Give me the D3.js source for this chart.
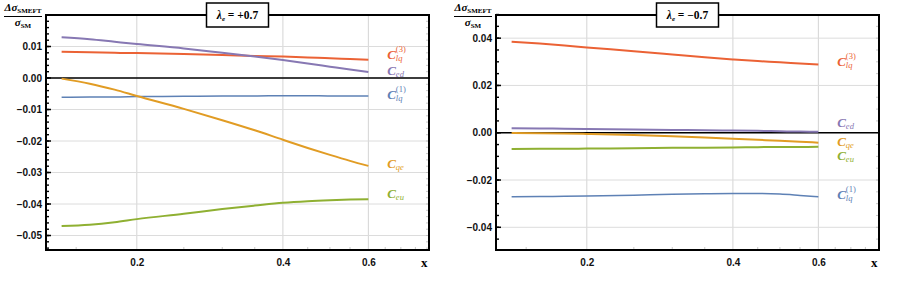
<!DOCTYPE html>
<html>
<head>
<meta charset="utf-8">
<script src="https://cdn.jsdelivr.net/npm/d3@7"></script>
<style>
  body { margin: 0; background: #fff; }
  svg { display: block; }
  .tick-label { font-family: "Liberation Sans", Arial, sans-serif; font-weight: bold; font-size: 10px; fill: #111; }
  .serif { font-family: "Liberation Serif", "DejaVu Serif", serif; }
</style>
</head>
<body>
<div id="chart"></div>
<script>
// ---------------- data ----------------
var xs = [0.14, 0.16, 0.18, 0.2, 0.25, 0.3, 0.35, 0.4, 0.45, 0.5, 0.55, 0.6];

var seriesNames = ["Clq1", "Cqe", "Ceu", "Clq3", "Ced"];

// lambda_e = +0.7
var plusClq1 = [-0.0061, -0.0060, -0.0060, -0.0059, -0.0058, -0.0057, -0.0057, -0.0056, -0.0056, -0.0057, -0.0057, -0.0057];
var plusCqe  = [-0.0002, -0.0018, -0.0037, -0.0057, -0.0098, -0.0134, -0.0166, -0.0196, -0.0222, -0.0244, -0.0263, -0.0279];
var plusCeu  = [-0.0470, -0.0466, -0.0458, -0.0448, -0.0431, -0.0416, -0.0405, -0.0396, -0.0391, -0.0388, -0.0386, -0.0385];
var plusClq3 = [0.0083, 0.0082, 0.0080, 0.0079, 0.0076, 0.0073, 0.0070, 0.0068, 0.0065, 0.0063, 0.0060, 0.0058];
var plusCed  = [0.0129, 0.0123, 0.0115, 0.0108, 0.0094, 0.0080, 0.0068, 0.0057, 0.0046, 0.0036, 0.0027, 0.0019];

// lambda_e = -0.7
var minusClq1 = [-0.0271, -0.0270, -0.0269, -0.0268, -0.0264, -0.0260, -0.0258, -0.0257, -0.0257, -0.0259, -0.0265, -0.0271];
var minusCqe  = [-0.0001, -0.0002, -0.0003, -0.0005, -0.0010, -0.0015, -0.0020, -0.0025, -0.0030, -0.0034, -0.0038, -0.0042];
var minusCeu  = [-0.0069, -0.0068, -0.0068, -0.0067, -0.0066, -0.0064, -0.0063, -0.0062, -0.0061, -0.0060, -0.0060, -0.0059];
var minusClq3 = [0.0385, 0.0377, 0.0369, 0.0361, 0.0345, 0.0331, 0.0319, 0.0310, 0.0303, 0.0298, 0.0293, 0.0289];
var minusCed  = [0.0019, 0.0018, 0.0017, 0.0016, 0.0014, 0.0012, 0.0010, 0.0009, 0.0008, 0.0006, 0.0005, 0.0004];

var xTicks = [0.2, 0.4, 0.6];
var xMinorTicks = [0.15, 0.25, 0.3, 0.35, 0.45, 0.5, 0.55, 0.65, 0.7, 0.75];
var plusYTicks = [0.01, 0.00, -0.01, -0.02, -0.03, -0.04, -0.05];
var minusYTicks = [0.04, 0.02, 0.00, -0.02, -0.04];

// label pieces for each series: main letter, subscript, superscript
var labelSub = { Clq1: "lq", Cqe: "qe", Ceu: "eu", Clq3: "lq", Ced: "ed" };
var labelSup = { Clq1: "(1)", Cqe: "", Ceu: "", Clq3: "(3)", Ced: "" };

// ---------------- drawing ----------------
var colors = { Clq1: "#5e81b5", Cqe: "#e19c24", Ceu: "#8fb032", Clq3: "#eb6235", Ced: "#8778b3" };
var lineWidth = { Clq1: 1.5, Cqe: 2, Ceu: 2, Clq3: 2, Ced: 2 };

var svg = d3.select("#chart").append("svg")
  .attr("width", 900)
  .attr("height", 281);

function drawPanel(p) {
  var g = svg.append("g").attr("transform", `translate(${p.left}, 15)`);
  var w = 383, h = 235;

  var x = d3.scaleLog().domain([0.13, 0.8]).range([0, w]);
  var y = d3.scaleLinear().domain(p.yDomain).range([h, 0]);

  // grid
  g.selectAll(".gx").data(xTicks).enter().append("line")
    .attr("x1", d => x(d)).attr("x2", d => x(d))
    .attr("y1", 0).attr("y2", h)
    .attr("stroke", "#d4d4d4").attr("stroke-width", 1);
  g.selectAll(".gy").data(p.yTicks).enter().append("line")
    .attr("x1", 0).attr("x2", w)
    .attr("y1", d => y(d)).attr("y2", d => y(d))
    .attr("stroke", "#dcdcdc").attr("stroke-width", 1);

  // minor x ticks (bottom)
  g.selectAll(".mx").data(xMinorTicks).enter().append("line")
    .attr("x1", d => x(d)).attr("x2", d => x(d))
    .attr("y1", h).attr("y2", h - 3)
    .attr("stroke", "#bbb").attr("stroke-width", 0.8);

  // y ticks on left (black) and right (grey)
  var minor = d3.range(p.yDomain[0], p.yDomain[1], p.yMinorStep)
    .map(v => Math.round(Math.ceil(v / p.yMinorStep) * p.yMinorStep * 1e6) / 1e6);
  g.selectAll(".my").data(minor).enter().append("line")
    .attr("x1", 0).attr("x2", 3)
    .attr("y1", d => y(d)).attr("y2", d => y(d))
    .attr("stroke", "#000").attr("stroke-width", 1.4);
  g.selectAll(".Myl").data(p.yTicks).enter().append("line")
    .attr("x1", 0).attr("x2", 5)
    .attr("y1", d => y(d)).attr("y2", d => y(d))
    .attr("stroke", "#000").attr("stroke-width", 1.5);
  g.selectAll(".myr").data(minor).enter().append("line")
    .attr("x1", w).attr("x2", w - 3)
    .attr("y1", d => y(d)).attr("y2", d => y(d))
    .attr("stroke", "#bbb").attr("stroke-width", 0.8);

  // zero line
  g.append("line")
    .attr("x1", 0).attr("x2", w)
    .attr("y1", y(0)).attr("y2", y(0))
    .attr("stroke", "#000").attr("stroke-width", 1.6);

  // curves
  var line = d3.line()
    .x((d, i) => x(xs[i]))
    .y(d => y(d))
    .curve(d3.curveMonotoneX);

  seriesNames.forEach(function(name) {
    g.append("path")
      .attr("d", line(p.series[name]))
      .attr("fill", "none")
      .attr("stroke", colors[name])
      .attr("stroke-width", lineWidth[name]);

    // curve labels: C with stacked sub/superscript
    var lx = x(0.6) + 19;
    var ly = p.labelY[name];
    var t = g.append("g").attr("class", "serif").attr("fill", colors[name]);
    t.append("text").attr("x", lx).attr("y", ly + 4)
      .attr("font-style", "italic").attr("font-weight", "bold").attr("font-size", 13).text("C");
    t.append("text").attr("x", lx + 8.5).attr("y", ly + 5.5)
      .attr("font-style", "italic").attr("font-size", 8.5).text(labelSub[name]);
    if (labelSup[name]) {
      t.append("text").attr("x", lx + 8.5).attr("y", ly - 3)
        .attr("font-size", 8.5).text(labelSup[name]);
    }
  });

  // frame
  g.append("rect")
    .attr("x", 0).attr("y", 0).attr("width", w).attr("height", h)
    .attr("fill", "none").attr("stroke", "#000").attr("stroke-width", 2);

  // tick labels via d3 axes (no domain/tick lines)
  var bottom = g.append("g").attr("transform", `translate(0, ${h})`)
    .call(d3.axisBottom(x).tickValues(xTicks).tickFormat(d3.format(".1f")).tickSize(0).tickPadding(9));
  bottom.select(".domain").remove();
  bottom.selectAll("text").attr("class", "tick-label").attr("fill", null);

  var left = g.append("g")
    .call(d3.axisLeft(y).tickValues(p.yTicks).tickFormat(d3.format(".2f")).tickSize(0).tickPadding(4));
  left.select(".domain").remove();
  left.selectAll("text").attr("class", "tick-label").attr("fill", null);

  // x label
  g.append("text").attr("class", "serif")
    .attr("x", w - 8).attr("y", h + 17)
    .attr("font-weight", "bold").attr("font-size", 13).text("x");

  // y label fraction
  var f = g.append("g").attr("class", "serif").attr("font-weight", "bold")
    .attr("transform", "translate(-23, -15)");
  var num = f.append("text").attr("x", 0).attr("y", 11).attr("text-anchor", "middle");
  num.append("tspan").attr("font-style", "italic").attr("font-size", 11).text("Δσ");
  num.append("tspan").attr("font-size", 7).attr("dy", 2).text("SMEFT");
  f.append("line").attr("x1", -19).attr("x2", 19).attr("y1", 16.5).attr("y2", 16.5)
    .attr("stroke", "#000").attr("stroke-width", 1);
  var den = f.append("text").attr("x", 0).attr("y", 26).attr("text-anchor", "middle");
  den.append("tspan").attr("font-style", "italic").attr("font-size", 11).text("σ");
  den.append("tspan").attr("font-size", 7).attr("dy", 2).text("SM");

  // title box
  var bx = w / 2;
  g.append("rect")
    .attr("x", bx - 31).attr("y", -12).attr("width", 62).attr("height", 24)
    .attr("fill", "#fff").attr("stroke", "#000").attr("stroke-width", 1.5);
  var tt = g.append("text").attr("class", "serif").attr("font-weight", "bold")
    .attr("x", bx).attr("y", 4).attr("text-anchor", "middle").attr("font-size", 11.5);
  tt.append("tspan").attr("font-style", "italic").text("λ");
  tt.append("tspan").attr("font-style", "italic").attr("font-size", 7).attr("dy", 2).text("e");
  tt.append("tspan").attr("dy", -2).text(" = " + p.title);
}

drawPanel({
  left: 46,
  yDomain: [-0.0546, 0.0200],
  yTicks: plusYTicks,
  yMinorStep: 0.002,
  title: "+0.7",
  series: { Clq1: plusClq1, Cqe: plusCqe, Ceu: plusCeu, Clq3: plusClq3, Ced: plusCed },
  labelY: { Clq3: 40, Ced: 56, Clq1: 80, Cqe: 149, Ceu: 179 }
});

drawPanel({
  left: 496,
  yDomain: [-0.0496, 0.0498],
  yTicks: minusYTicks,
  yMinorStep: 0.005,
  title: "\u22120.7",
  series: { Clq1: minusClq1, Cqe: minusCqe, Ceu: minusCeu, Clq3: minusClq3, Ced: minusCed },
  labelY: { Clq3: 47, Ced: 108, Cqe: 127, Ceu: 141, Clq1: 180 }
});
</script>
</body>
</html>
